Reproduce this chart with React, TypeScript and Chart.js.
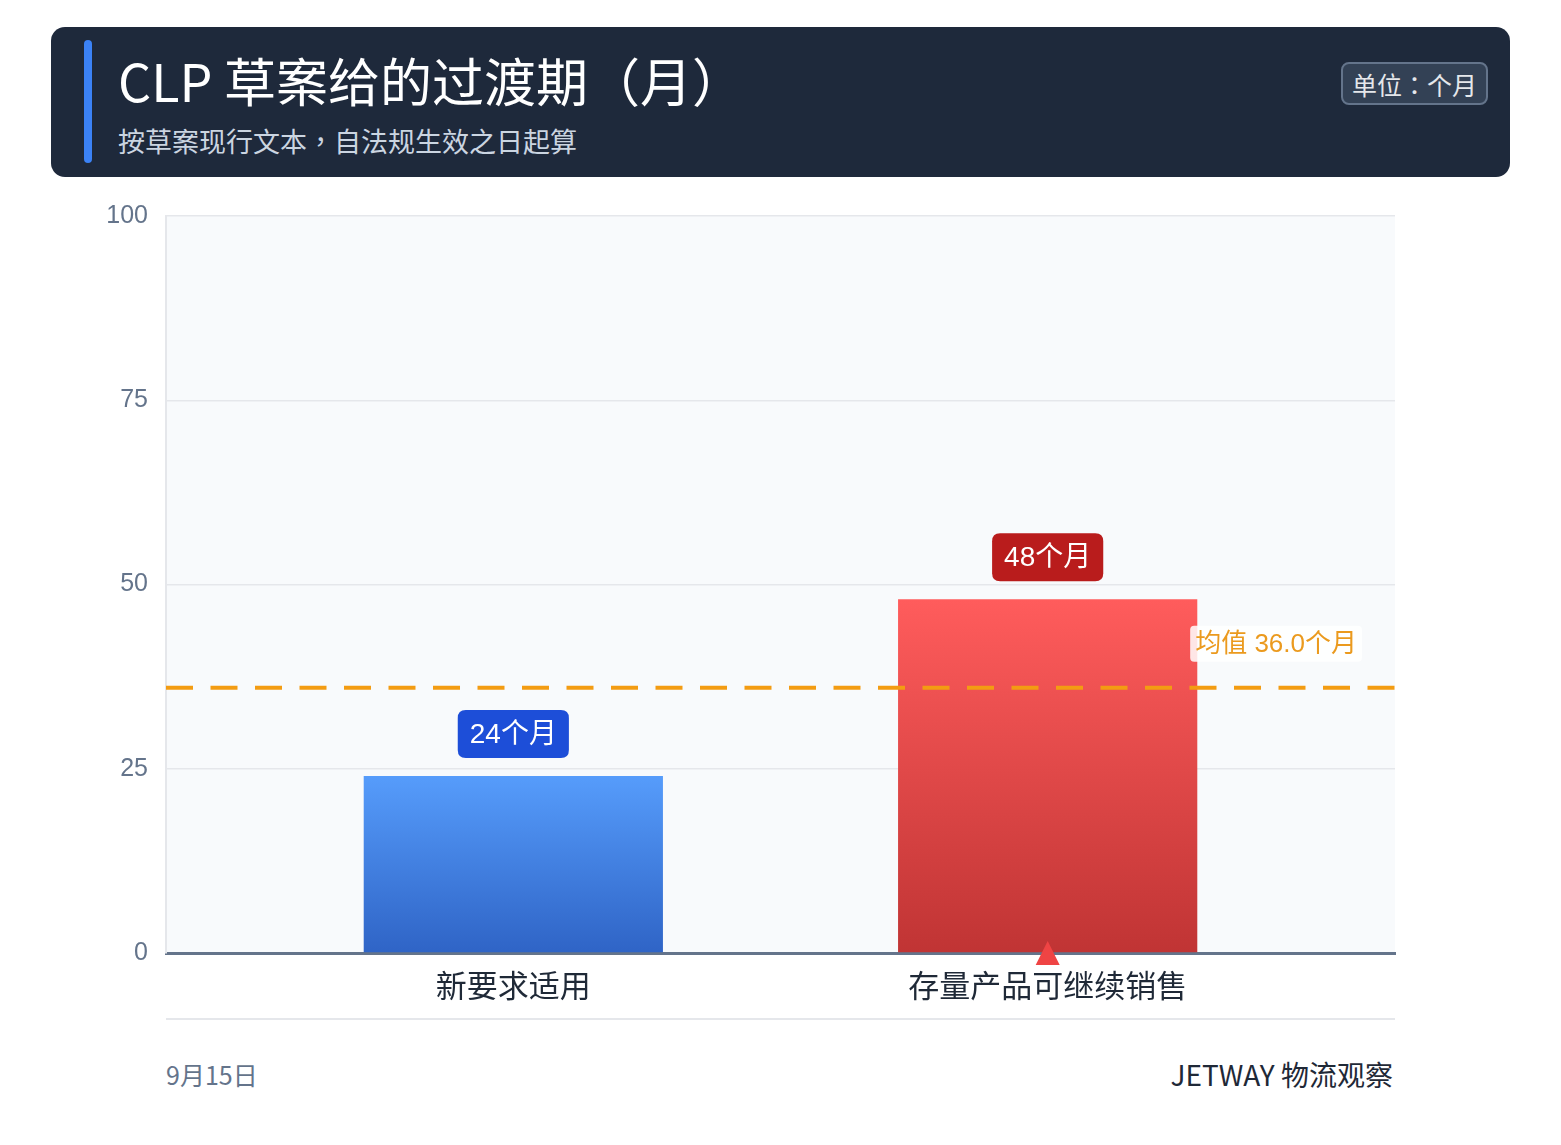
import { useEffect, useRef } from 'react';
import { Chart, registerables } from 'chart.js';

Chart.register(...registerables);

const categories = ['新要求适用', '存量产品可继续销售'];
const months = [24, 48];
const valueLabels = ['24个月', '48个月'];
const yTicks = [0, 25, 50, 75, 100];

const barTopColors = ['#569cfb', '#ff5c5c'];
const barBottomColors = ['#2f64c6', '#c03434'];
const badgeColors = ['#1d4ed8', '#b91c1c'];

const CANVAS_FONT = '"Liberation Sans", "Noto Sans CJK SC", sans-serif';
const CJK_FONT = '"Noto Sans CJK SC", "Liberation Sans", sans-serif';
const HEADER_FONT = '"Noto Sans CJK TC", "Noto Sans CJK SC", sans-serif';

const mean = months.reduce((a, b) => a + b, 0) / months.length;

function roundRect(ctx: CanvasRenderingContext2D, x: number, y: number, w: number, h: number, r: number) {
    ctx.beginPath();
    ctx.moveTo(x + r, y);
    ctx.lineTo(x + w - r, y);
    ctx.quadraticCurveTo(x + w, y, x + w, y + r);
    ctx.lineTo(x + w, y + h - r);
    ctx.quadraticCurveTo(x + w, y + h, x + w - r, y + h);
    ctx.lineTo(x + r, y + h);
    ctx.quadraticCurveTo(x, y + h, x, y + h - r);
    ctx.lineTo(x, y + r);
    ctx.quadraticCurveTo(x, y, x + r, y);
    ctx.closePath();
}

const plotBackground = {
    id: 'plotBackground',
    beforeDraw(chart: any) {
        const { ctx, chartArea } = chart;
        ctx.save();
        ctx.fillStyle = '#f8fafc';
        ctx.fillRect(chartArea.left, chartArea.top, chartArea.right - chartArea.left, chartArea.bottom - chartArea.top);
        ctx.restore();
    },
};

const overlays = {
    id: 'overlays',
    afterDatasetsDraw(chart: any) {
        const { ctx, chartArea, scales } = chart;
        const meta = chart.getDatasetMeta(0);

        // mean line
        const my = scales.y.getPixelForValue(mean);
        ctx.save();
        ctx.strokeStyle = '#f39c12';
        ctx.lineWidth = 4;
        ctx.setLineDash([27, 17.5]);
        ctx.beginPath();
        ctx.moveTo(chartArea.left, my);
        ctx.lineTo(chartArea.right, my);
        ctx.stroke();
        ctx.setLineDash([]);

        // mean label
        ctx.font = '26px ' + CANVAS_FONT;
        const meanText = '均值 ' + mean.toFixed(1) + '个月';
        const tw = ctx.measureText(meanText).width;
        const bw = tw + 10;
        const bh = 36;
        const bx = chartArea.right - 33 - bw;
        const by = my - 26 - bh;
        ctx.fillStyle = 'rgba(255,255,255,0.85)';
        roundRect(ctx, bx, by, bw, bh, 4);
        ctx.fill();
        ctx.fillStyle = '#eb9a1e';
        ctx.textBaseline = 'middle';
        ctx.textAlign = 'left';
        ctx.fillText(meanText, bx + 5, by + bh / 2 + 1);

        // value badges
        ctx.font = '28px ' + CANVAS_FONT;
        meta.data.forEach((bar: any, i: number) => {
            const text = valueLabels[i];
            const w = ctx.measureText(text).width + 24;
            const h = 48;
            const x = bar.x - w / 2;
            const y = bar.y - 18 - h;
            ctx.fillStyle = badgeColors[i];
            roundRect(ctx, x, y, w, h, 8);
            ctx.fill();
            ctx.fillStyle = '#ffffff';
            ctx.textAlign = 'center';
            ctx.fillText(text, bar.x, y + h / 2 + 1);
        });

        // marker on the longest period
        const maxIdx = months.indexOf(Math.max(...months));
        const mb = meta.data[maxIdx];
        const base = scales.y.getPixelForValue(0);
        ctx.fillStyle = '#ef4444';
        ctx.beginPath();
        ctx.moveTo(mb.x, base - 12);
        ctx.lineTo(mb.x + 12, base + 12);
        ctx.lineTo(mb.x - 12, base + 12);
        ctx.closePath();
        ctx.fill();
        ctx.restore();
    },
};

function barGradient(context: any) {
    const chart = context.chart;
    const i = context.dataIndex;
    if (!chart.chartArea || !chart.scales.y) return barTopColors[i];
    const top = chart.scales.y.getPixelForValue(months[i]);
    const bottom = chart.scales.y.getPixelForValue(0);
    const g = chart.ctx.createLinearGradient(0, top, 0, bottom);
    g.addColorStop(0, barTopColors[i]);
    g.addColorStop(1, barBottomColors[i]);
    return g;
}

const TransitionChart: React.FC = () => {
    const canvasRef = useRef<HTMLCanvasElement | null>(null);
    const chartRef = useRef<Chart | null>(null);

    useEffect(() => {
        if (!canvasRef.current) return;
        if (chartRef.current) chartRef.current.destroy();

        chartRef.current = new Chart(canvasRef.current, {
            type: 'bar',
            data: {
                labels: categories,
                datasets: [
                    {
                        data: months,
                        backgroundColor: barGradient,
                        borderWidth: 0,
                        categoryPercentage: 1,
                        barPercentage: 0.56,
                    },
                ],
            },
            options: {
                animation: false,
                responsive: true,
                maintainAspectRatio: false,
                layout: { padding: { left: 0, right: 166, top: 10, bottom: 0 } },
                plugins: {
                    legend: { display: false },
                    tooltip: { enabled: false },
                },
                scales: {
                    x: {
                        offset: false,
                        grid: { display: false, drawTicks: false },
                        border: { display: true, color: '#64748b', width: 3 },
                        ticks: {
                            color: '#1f2937',
                            padding: 14,
                            font: { size: 31, family: CJK_FONT },
                        },
                        afterBuildTicks: (s: any) => {
                            s._startValue = -0.65;
                            s._valueRange = 2.3;
                        },
                        afterFit: (s: any) => {
                            s.height = 67;
                        },
                    },
                    y: {
                        min: 0,
                        max: 100,
                        grid: { color: '#e5e7eb', lineWidth: 1.5, drawTicks: false },
                        border: { display: true, color: '#e5e7eb', width: 2 },
                        ticks: {
                            color: '#64748b',
                            padding: 18,
                            font: { size: 25, family: CANVAS_FONT },
                        },
                        afterBuildTicks: (s: any) => {
                            s.ticks = yTicks.map((v) => ({ value: v }));
                        },
                        afterFit: (s: any) => {
                            s.width = 166;
                        },
                    },
                },
            },
            plugins: [plotBackground, overlays],
        });

        return () => {
            if (chartRef.current) {
                chartRef.current.destroy();
                chartRef.current = null;
            }
        };
    }, []);

    return (
        <div style={{ position: 'absolute', left: 0, top: 183, width: 1561, height: 837 }}>
            <canvas ref={canvasRef}></canvas>
        </div>
    );
};

export default function App() {
    return (
        <div
            style={{
                position: 'absolute',
                left: 0,
                top: 0,
                width: 1561,
                height: 1145,
                background: '#ffffff',
                fontFamily: CJK_FONT,
                overflow: 'hidden',
            }}
        >
            <div
                style={{
                    position: 'absolute',
                    left: 51,
                    top: 27,
                    width: 1459,
                    height: 150,
                    background: '#1e293b',
                    borderRadius: 14,
                }}
            ></div>
            <div
                style={{
                    position: 'absolute',
                    left: 84,
                    top: 40,
                    width: 8,
                    height: 123,
                    borderRadius: 4,
                    background: '#3b82f6',
                }}
            ></div>
            <div
                style={{
                    position: 'absolute',
                    left: 118,
                    top: 54,
                    fontSize: 52,
                    lineHeight: '52px',
                    color: '#ffffff',
                    whiteSpace: 'nowrap',
                    fontFamily: HEADER_FONT,
                }}
            >
                CLP 草案给的过渡期（月）
            </div>
            <div
                style={{
                    position: 'absolute',
                    left: 118,
                    top: 127,
                    fontSize: 27,
                    lineHeight: '27px',
                    color: '#cbd5e1',
                    whiteSpace: 'nowrap',
                    fontFamily: HEADER_FONT,
                }}
            >
                按草案现行文本，自法规生效之日起算
            </div>
            <div
                style={{
                    position: 'absolute',
                    left: 1341,
                    top: 62,
                    width: 147,
                    height: 43,
                    boxSizing: 'border-box',
                    border: '2px solid #64748b',
                    borderRadius: 8,
                    background: '#334155',
                    color: '#e5e7eb',
                    fontSize: 25,
                    display: 'flex',
                    alignItems: 'center',
                    justifyContent: 'center',
                    whiteSpace: 'nowrap',
                    fontFamily: HEADER_FONT,
                }}
            >
                单位：个月
            </div>

            <TransitionChart />

            <div
                style={{
                    position: 'absolute',
                    left: 166,
                    top: 1018,
                    width: 1229,
                    height: 2,
                    background: '#e5e7eb',
                }}
            ></div>
            <div
                style={{
                    position: 'absolute',
                    left: 166,
                    top: 1062,
                    fontSize: 25,
                    lineHeight: '25px',
                    color: '#64748b',
                    whiteSpace: 'nowrap',
                }}
            >
                9月15日
            </div>
            <div
                style={{
                    position: 'absolute',
                    right: 1561 - 1393,
                    top: 1060,
                    fontSize: 28,
                    lineHeight: '28px',
                    color: '#1f2937',
                    whiteSpace: 'nowrap',
                }}
            >
                JETWAY 物流观察
            </div>
        </div>
    );
}
